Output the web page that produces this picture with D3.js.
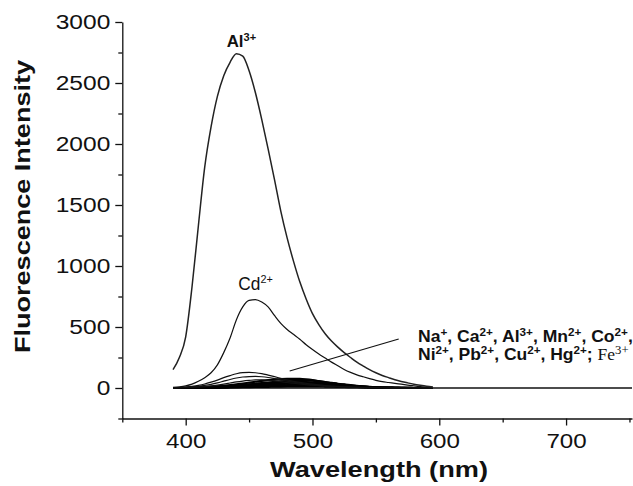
<!DOCTYPE html>
<html><head><meta charset="utf-8">
<script src="https://cdn.jsdelivr.net/npm/d3@7"></script>
<style>html,body{margin:0;padding:0;background:#fff}svg{display:block}</style>
</head><body>
<svg id="chart" width="633" height="486"></svg>
<script>
// ---------- data ----------
const wavelengths = [390,395,400,405,410,415,420,425,430,435,440,445,450,455,460,465,470,475,480,485,490,495,500,505,510,515,520,525,530,535,540,545,550,555,560,565,570,575,580,585,590,595];
const al3 = [150,250,420,830,1330,1810,2140,2390,2560,2670,2740,2720,2600,2420,2200,1960,1710,1450,1230,1040,870,730,610,520,445,385,335,290,250,212,180,150,125,103,85,68,54,42,31,22,14,8];
const cd2 = [5,10,18,32,55,85,125,190,290,410,560,665,718,725,705,665,595,530,480,440,400,355,315,278,245,212,182,152,128,108,92,77,63,52,45,38,31,24,17,11,7,4];
const ionA = [0,3,8,14,22,33,48,65,85,102,117,126,128,125,118,106,93,79,66,55,46,38,31,25,20,16,13,10,8,6,5,4,3,2,2,1,1,1,0,0,0,0];
const ionB = [0,2,5,9,14,21,30,42,56,70,82,90,94,95,92,86,77,67,57,48,40,33,27,22,18,14,11,9,7,5,4,3,2,2,1,1,1,0,0,0,0,0];
const ionC = [0,1,3,5,8,12,17,24,32,41,50,57,62,66,66,63,58,52,45,39,33,28,23,19,15,12,10,8,6,5,4,3,2,2,1,1,1,0,0,0,0,0];
const ionD = [0,0,1,2,4,6,9,13,18,24,30,37,44,51,58,64,69,73,75,75,74,70,64,56,48,40,33,26,20,15,11,8,6,4,3,2,1,1,0,0,0,0];
const ionE = [0,0,0,1,2,4,6,9,12,16,20,25,30,35,40,45,50,54,58,61,62,62,60,55,49,42,35,29,23,18,13,9,6,4,3,2,1,1,0,0,0,0];
const ionF = [0,0,0,1,2,3,5,7,10,13,17,21,26,30,34,38,42,45,48,50,50,49,47,44,40,35,30,25,20,15,11,8,6,4,3,2,1,1,0,0,0,0];
const ionG = [0,0,0,0,1,2,3,5,7,9,12,15,18,21,24,27,30,33,35,37,38,38,37,35,32,29,25,21,17,13,10,7,5,3,2,1,1,0,0,0,0,0];
const ionH = [0,0,0,0,1,1,2,3,4,6,8,10,12,14,16,18,20,22,23,24,25,25,24,23,21,19,17,14,11,9,7,5,3,2,1,1,0,0,0,0,0,0];
const ionI = [0,0,0,0,0,1,1,2,3,4,5,6,7,8,9,10,11,12,13,14,14,14,13,13,12,11,10,8,7,6,5,4,3,2,1,1,0,0,0,0,0,0];
const blankWl = [390, 752];
const blankVal = [0, 0];
const pointerWl = [482, 568];
const pointerVal = [139, 402];
const xMajorTicks = [400, 500, 600, 700];
const xMinorTicks = [350, 450, 550, 650, 750];
const yMajorTicks = [0, 500, 1000, 1500, 2000, 2500, 3000];
const yMinorTicks = [-250, 250, 750, 1250, 1750, 2250, 2750];

// ---------- setup ----------
const svg = d3.select('#chart');
const SANS = 'Liberation Sans, Arial, sans-serif';
const SERIF = 'Liberation Serif, Times New Roman, serif';
const x = d3.scaleLinear().domain([350, 752]).range([122.3, 632]);
const y = d3.scaleLinear().domain([-250, 3000]).range([418.5, 22]);

function stretchX(node, s, ox) {
  d3.select(node).attr('transform', `translate(${ox},0) scale(${s},1) translate(${-ox},0)`);
}
function fitWidth(node, target, ox) {
  const w = node.getBBox().width;
  stretchX(node, target / w, ox);
}

// ---------- axes ----------
const yMinor = svg.append('g').attr('transform', 'translate(122.3,0)')
  .call(d3.axisLeft(y).tickValues(yMinorTicks).tickSize(4).tickFormat(''));
yMinor.select('.domain').remove();
const yAxis = svg.append('g').attr('transform', 'translate(122.3,0)')
  .call(d3.axisLeft(y).tickValues(yMajorTicks).tickSize(7).tickSizeOuter(0).tickPadding(5).tickFormat(d3.format('d')));
const xMinor = svg.append('g').attr('transform', 'translate(0,418.5)')
  .call(d3.axisBottom(x).tickValues(xMinorTicks).tickSize(4).tickFormat(''));
xMinor.select('.domain').remove();
const xAxis = svg.append('g').attr('transform', 'translate(0,418.5)')
  .call(d3.axisBottom(x).tickValues(xMajorTicks).tickSize(7).tickSizeOuter(0).tickFormat(d3.format('d')));

svg.selectAll('.domain, .tick line').attr('stroke', '#111').attr('stroke-width', 1.3);
yAxis.selectAll('text').attr('font-family', SANS).attr('font-size', 21).attr('fill', '#111')
  .each(function () { stretchX(this, 1.17, -12); });
xAxis.selectAll('text').attr('font-family', SANS).attr('font-size', 21).attr('fill', '#111')
  .attr('y', 29.5).attr('dy', '0')
  .each(function () { stretchX(this, 1.15, 0); });

// axis titles
svg.append('text').attr('transform', 'translate(30,206.5) rotate(-90)')
  .attr('text-anchor', 'middle').attr('font-family', SANS).attr('font-weight', 'bold')
  .attr('font-size', 22).attr('fill', '#111').text('Fluorescence Intensity')
  .attr('textLength', 293).attr('lengthAdjust', 'spacingAndGlyphs');
svg.append('text').attr('x', 379).attr('y', 477)
  .attr('text-anchor', 'middle').attr('font-family', SANS).attr('font-weight', 'bold')
  .attr('font-size', 22).attr('fill', '#111').text('Wavelength (nm)')
  .attr('textLength', 218).attr('lengthAdjust', 'spacingAndGlyphs');

// ---------- curves ----------
const line = d3.line().x(d => x(d[0])).y(d => y(d[1])).curve(d3.curveMonotoneX);
const straight = d3.line().x(d => x(d[0])).y(d => y(d[1]));
const zipWl = vals => wavelengths.map((w, i) => [w, vals[i]]);
const plot = svg.append('g');

plot.append('path').attr('d', straight(blankWl.map((w, i) => [w, blankVal[i]])))
  .attr('fill', 'none').attr('stroke', '#111').attr('stroke-width', 1.3);

[ionI, ionH, ionG, ionF, ionE, ionD].forEach(s => {
  plot.append('path').attr('d', line(zipWl(s))).attr('fill', 'none')
    .attr('stroke', '#000').attr('stroke-width', 2.2);
});
[ionC, ionB, ionA].forEach(s => {
  plot.append('path').attr('d', line(zipWl(s))).attr('fill', 'none')
    .attr('stroke', '#111').attr('stroke-width', 1.2);
});
plot.append('path').attr('d', line(zipWl(cd2))).attr('fill', 'none')
  .attr('stroke', '#111').attr('stroke-width', 1.2);
plot.append('path').attr('d', line(zipWl(al3))).attr('fill', 'none')
  .attr('stroke', '#222').attr('stroke-width', 1.5);

// pointer line
plot.append('path').attr('d', straight(pointerWl.map((w, i) => [w, pointerVal[i]])))
  .attr('fill', 'none').attr('stroke', '#111').attr('stroke-width', 1.2);

// ---------- labels ----------
function rich(xp, yp, parts, base) {
  const t = svg.append('text').attr('x', xp).attr('y', yp).attr('fill', '#111')
    .attr('font-family', SANS).attr('font-size', base.size).attr('font-weight', base.weight || 'normal');
  let raised = false;
  parts.forEach(p => {
    const [str, sup, fam] = p;
    const ts = t.append('tspan').text(str);
    if (fam) ts.attr('font-family', fam).attr('font-weight', 'normal');
    if (sup && !raised) { ts.attr('dy', -base.shift); raised = true; }
    else if (!sup && raised) { ts.attr('dy', base.shift); raised = false; }
    if (sup) ts.attr('font-size', base.supSize);
    if (fam && p[3]) ts.attr('font-size', p[3]);
  });
  return t;
}

const alLab = rich(226.7, 47, [['Al'], ['3+', true]], { size: 16, supSize: 10.5, shift: 6, weight: 'bold' });
fitWidth(alLab.node(), 29.5, 226.7);
const cdLab = rich(238.3, 290, [['Cd'], ['2+', true]], { size: 17.5, supSize: 11, shift: 6.5 });
fitWidth(cdLab.node(), 34.5, 238.3);

const ann1 = rich(418, 341.7, [['Na'], ['+', true], [', Ca'], ['2+', true], [', Al'], ['3+', true], [', Mn'], ['2+', true], [', Co'], ['2+', true], [',']],
  { size: 16.5, supSize: 11, shift: 6, weight: 'bold' });
fitWidth(ann1.node(), 215, 418);
const ann2 = rich(418, 360.5, [['Ni'], ['2+', true], [', Pb'], ['2+', true], [', Cu'], ['2+', true], [', Hg'], ['2+', true], ['; '], ['Fe', false, SERIF, 16.5], ['3+', true, SERIF, 12]],
  { size: 16.5, supSize: 11, shift: 6, weight: 'bold' });
fitWidth(ann2.node(), 211, 418);
</script>
</body></html>
